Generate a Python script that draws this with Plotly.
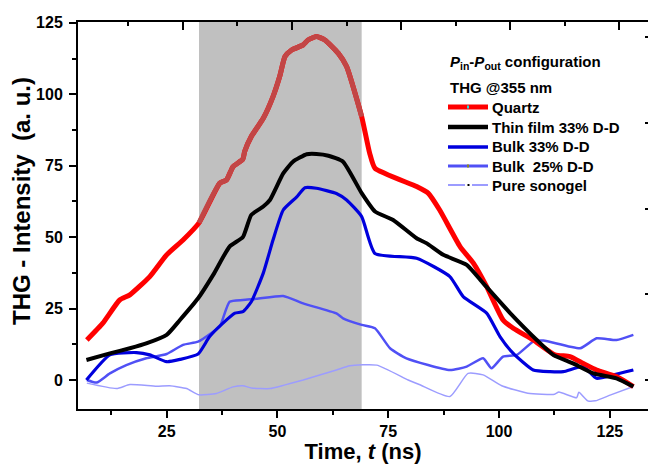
import plotly.graph_objects as go
import numpy as np

# ---- data ----
quartz_t = [7, 10.6, 14.4, 16.7, 21.2, 25, 28.7, 32.3, 37, 38.5, 40, 42.2, 42.6, 44.1, 46.8, 49, 50.5,
            51.7, 53.2, 55.8, 56.9, 58.8, 60.7, 63.7, 65.6, 69, 70.8, 72, 81.4, 84, 86.6, 91.2, 94.2,
            97.2, 100.9, 103.2, 107.7, 112.6, 116, 119, 122, 126.5, 130.3]
quartz_y = [14, 19.9, 28, 29.8, 36.2, 43.8, 49, 55, 68.9, 70, 74.7, 77.3, 80, 85.2, 91.6, 99.2, 106.2,
            113.2, 115.5, 117.3, 119, 120.2, 119, 114.4, 109.7, 92.2, 79.4, 74.1, 67.7, 65.4, 59.5, 46.7, 40.9,
            32.7, 21, 18.1, 14, 8.8, 8.2, 5.8, 3.5, 1.2, -2.3]

thin_t = [6.9, 12.2, 16.7, 20.4, 25, 28, 32.1, 35.5, 39.2, 42.2, 44.1, 46.8, 48.3, 51.3, 53.5, 56.6,
          58.8, 61.5, 64.8, 69, 72, 76.1, 81.4, 83.6, 87.4, 92.7, 96.4, 102.5, 108.5, 112.2, 116.7,
          121.3, 126.5, 130.3]
thin_y = [7, 9.3, 11.1, 12.8, 15.8, 21, 28.6, 36.8, 46.7, 50, 57.8, 60.7, 63, 72.3, 76.4, 79,
          79.1, 78.5, 76.4, 65.4, 59, 56, 49.6, 47.9, 43.8, 40.3, 33.9, 23.4, 14, 8.8, 5.8,
          2.3, 0.6, -2.3]

bulk33_t = [6.9, 12.2, 18.2, 21.2, 25, 28, 32.1, 34.7, 37.7, 40.4, 42.2, 44.1, 46.8, 49, 51.3, 54.3,
            56.2, 58.8, 63.3, 65.6, 69, 72, 81.4, 88.9, 91.9, 97.2, 100.2, 103.2, 107.7, 111.5, 114.5,
            119, 122, 125.8, 130.3]
bulk33_y = [0, 8.8, 9.6, 8.8, 6.4, 7.2, 9.1, 15.2, 19.9, 23.4, 23.9, 27.4, 37.4, 49, 59.5, 64,
            67.3, 67.1, 65.3, 63, 57.2, 44.3, 42.6, 36.2, 29.2, 23.4, 15.2, 9.3, 3.5, 2.9, 2.9,
            4.7, 0.6, 1.8, 3.5]

bulk25_t = [7, 9.2, 12.2, 15.9, 20.4, 25, 28.7, 32.1, 35.5, 37, 39.2, 42.2, 45.3, 51.3, 55.8, 63.3,
            64.8, 69, 72, 75.4, 79.1, 88.9, 92.7, 96.4, 98.3, 100.9, 104, 107.7, 110, 118.3, 122,
            126.5, 130.3]
bulk25_y = [0, -0.9, 2.3, 5.2, 7.6, 9.1, 12.3, 13.4, 16.9, 18.7, 27.4, 28, 28.4, 29.4, 26.8, 23.3,
            21.6, 19.3, 18.1, 11.1, 7.6, 3.5, 4.7, 7.6, 4.1, 8.2, 8.8, 13.4, 13.8, 11.1, 14.6,
            14, 15.8]

sono_t = [7, 13.7, 16.7, 22.7, 25.7, 29.5, 32.3, 36.2, 40, 42.2, 44.1, 48.3, 51.5, 55.8, 63.3, 66.3,
          72.4, 79.5, 82, 88.9, 93, 96.4, 100.6, 106.5, 112.5, 113.5, 117.5, 118, 120, 121.7, 125.2, 130.3]
sono_y = [-1.1, -3, -1.6, -2.2, -2, -3, -5.2, -4.7, -2.4, -2, -2.8, -3, -1.8, 0, 3.5, 5,
          5.2, 0, -1.6, -5.8, 2.3, 1.8, -2, -4.6, -5, -4.2, -6.2, -4.3, -7.3, -7.3, -5.2, -2.3]

series_names = ["Quartz", "Thin film 33% D-D", "Bulk 33% D-D", "Bulk&nbsp; 25% D-D", "Pure sonogel"]
legend_head = ["<i>P</i><sub>in</sub>-<i>P</i><sub>out</sub> configuration", "THG @355 nm"]

band = [32.3, 69.0]          # shaded time window
x_ticks = [25, 50, 75, 100, 125]
x_minor = [12.5, 37.5, 62.5, 87.5, 112.5]
y_ticks = [0, 25, 50, 75, 100, 125]
y_minor = [12.5, 37.5, 62.5, 87.5, 112.5]
top_major = [28.7, 53.2, 77.8, 102.5, 127.1]
top_minor = [16.3, 40.9, 65.6, 90.2, 114.8]
right_ticks = [0, 30, 60, 90, 120]

# ---- styling ----
FONT = "Arial, Liberation Sans, sans-serif"
XR = [5, 133.6]
YR = [-10.15, 125.3]
SM = 0.5
W, H = 648, 464
ML, MR, MT, MB = 78, 0, 22, 55
PW, PH = W - ML - MR, H - MT - MB
colors = ["#FF0000", "#000000", "#0000DD", "#5050F5", "#9C9CFF"]
widths = [5, 4, 3.2, 2.5, 1.5]
leg_widths = [5, 4.5, 3.5, 3, 2]
leg_marks = ["#22DDDD", None, None, "#8A8A20", None]


def px(xp):
    return (xp - ML) / PW


def py(yp):
    return (H - MB - yp) / PH


fig = go.Figure()

fig.add_shape(type="rect", xref="x", yref="paper", x0=band[0], x1=band[1], y0=0, y1=1,
              fillcolor="#C0C0C0", line=dict(width=0), layer="below")

series = [(quartz_t, quartz_y), (thin_t, thin_y), (bulk33_t, bulk33_y), (bulk25_t, bulk25_y), (sono_t, sono_y)]
draw_order = [4, 3, 2, 0, 1]
for i in draw_order:
    t, v = series[i]
    fig.add_trace(go.Scatter(x=t, y=v, mode="lines", name=series_names[i], showlegend=False,
                             line=dict(color=colors[i], width=widths[i], shape="spline", smoothing=SM)))
    if i == 0:
        qt = np.array(quartz_t); qy = np.array(quartz_y)
        m = (qt >= band[0]) & (qt <= band[1])
        fig.add_trace(go.Scatter(x=qt[m], y=qy[m], mode="lines", showlegend=False,
                                 line=dict(color="#C24646", width=5, shape="spline", smoothing=SM)))
fig.add_trace(go.Scatter(x=[], y=[], xaxis="x2", yaxis="y2", showlegend=False))

# ---- manual legend ----
row_y = [107, 127, 147, 166, 185]
for i, name in enumerate(series_names):
    yy = py(row_y[i])
    if i == 4:
        fig.add_shape(type="line", xref="paper", yref="paper", x0=px(448), x1=px(465), y0=yy, y1=yy,
                      line=dict(color=colors[i], width=leg_widths[i]))
        fig.add_shape(type="line", xref="paper", yref="paper", x0=px(472), x1=px(488), y0=yy, y1=yy,
                      line=dict(color=colors[i], width=leg_widths[i]))
        fig.add_shape(type="rect", xref="paper", yref="paper", x0=px(467.5), x1=px(469.5),
                      y0=py(row_y[i] + 1), y1=py(row_y[i] - 1), fillcolor="black", line=dict(width=0))
    else:
        fig.add_shape(type="line", xref="paper", yref="paper", x0=px(448), x1=px(488), y0=yy, y1=yy,
                      line=dict(color=colors[i], width=leg_widths[i]))
        if leg_marks[i]:
            fig.add_shape(type="rect", xref="paper", yref="paper", x0=px(467), x1=px(469),
                          y0=py(row_y[i] + 1.5), y1=py(row_y[i] - 1.5), fillcolor=leg_marks[i],
                          line=dict(width=0))
    fig.add_annotation(text="<b>" + name + "</b>", xref="paper", yref="paper", x=px(490), y=yy,
                       xanchor="left", yanchor="middle", showarrow=False,
                       font=dict(family=FONT, size=15, color="black"))
head_y = [62, 87]
for j, txt in enumerate(legend_head):
    fig.add_annotation(text="<b>" + txt + "</b>", xref="paper", yref="paper", x=px(448), y=py(head_y[j]),
                       xanchor="left", yanchor="middle", showarrow=False,
                       font=dict(family=FONT, size=15, color="black"))

# y-axis title as annotation (placed slightly above the axis centre, like the original)
fig.add_annotation(text="<b>THG - Intensity&nbsp;&nbsp;(a. u.)</b>", xref="paper", yref="paper",
                   x=px(21), y=py(201), xanchor="center", yanchor="middle", textangle=-90,
                   showarrow=False, font=dict(family=FONT, size=24, color="black"))

tickfont = dict(family=FONT, size=16, color="black", weight="bold")
fig.update_layout(
    width=W, height=H,
    margin=dict(l=ML, r=MR, t=MT, b=MB),
    paper_bgcolor="white", plot_bgcolor="white",
    font=dict(family=FONT, color="black"),
    showlegend=False,
    xaxis=dict(range=XR, showline=True, linewidth=2, linecolor="black", showgrid=False, zeroline=False,
               tickmode="array", tickvals=x_ticks, ticks="outside", ticklen=7, tickwidth=2, tickcolor="black",
               tickfont=tickfont,
               minor=dict(tickvals=x_minor, ticks="outside", ticklen=4, tickwidth=2, tickcolor="black"),
               title=dict(text="<b>Time, <i>t</i> (ns)</b>", font=dict(family=FONT, size=22, color="black"),
                          standoff=6)),
    yaxis=dict(range=YR, showline=True, linewidth=2, linecolor="black", showgrid=False, zeroline=False,
               tickmode="array", tickvals=y_ticks, ticks="outside", ticklen=7, tickwidth=2, tickcolor="black",
               tickfont=tickfont, ticklabelstandoff=3,
               minor=dict(tickvals=y_minor, ticks="outside", ticklen=4, tickwidth=2, tickcolor="black")),
    xaxis2=dict(range=XR, overlaying="x", side="top", showline=True, linewidth=2, linecolor="black",
                showgrid=False, zeroline=False, showticklabels=False,
                tickmode="array", tickvals=top_major, ticks="inside", ticklen=8, tickwidth=2, tickcolor="black",
                minor=dict(tickvals=top_minor, ticks="inside", ticklen=4, tickwidth=2, tickcolor="black")),
    yaxis2=dict(range=YR, overlaying="y", side="right", showline=False, showgrid=False, zeroline=False,
                showticklabels=False, tickmode="array", tickvals=right_ticks, ticks="inside", ticklen=3,
                tickwidth=2, tickcolor="black"),
)

fig.write_html("out.html", config={"displayModeBar": False},
               post_script="document.body.style.margin='0';document.body.style.overflow='hidden';")
